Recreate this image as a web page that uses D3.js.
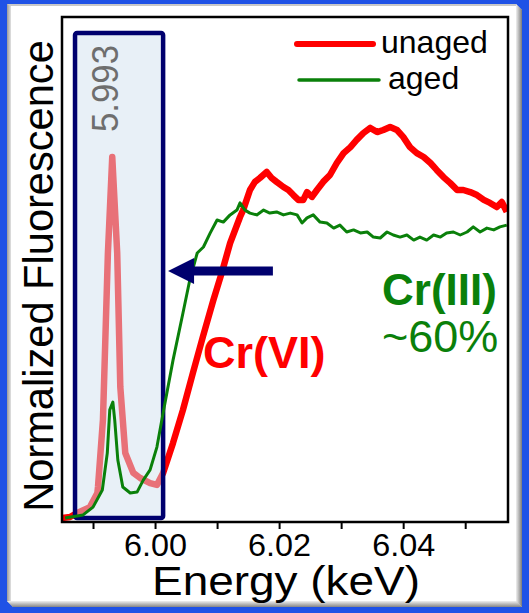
<!DOCTYPE html>
<html lang="en">
    <head>
        <meta charset="utf-8">
        <title>Cr K-edge XANES: unaged vs aged</title>
        <script type="text/javascript" src="https://cdn.jsdelivr.net/npm/d3@7"></script>
        <style type="text/css">
            body { margin: 0; background: #fff; }
            text { font-family: "Liberation Sans", Arial, sans-serif; }
        </style>
    </head>

    <body>
        <script type="text/javascript">
            // Energy (keV) and normalized fluorescence
            var unagedEnergy = [5.985, 5.9863, 5.9874, 5.9895, 5.9907, 5.9908, 5.9916, 5.9924, 5.9931, 5.9939,
                                5.9944, 5.9952, 5.9965, 5.9976, 5.9992, 6.0003, 6.0013, 6.0029, 6.0045, 6.0061,
                                6.0077, 6.0094, 6.0108, 6.0121, 6.0137, 6.0142, 6.0153, 6.0161, 6.0169, 6.0180,
                                6.0188, 6.0196, 6.0207, 6.0215, 6.0223, 6.0231, 6.0239, 6.0245, 6.0253, 6.0261,
                                6.0271, 6.0282, 6.0293, 6.0304, 6.0315, 6.0325, 6.0336, 6.0347, 6.0358, 6.0368,
                                6.0379, 6.0390, 6.0400, 6.0411, 6.0422, 6.0433, 6.0444, 6.0454, 6.0465, 6.0476,
                                6.0487, 6.0497, 6.0508, 6.0519, 6.0530, 6.0540, 6.0551, 6.0559, 6.0567];
            var unagedValue = [0.007, 0.010, 0.023, 0.043, 0.090, 0.110, 0.333, 0.890, 1.210, 0.890,
                               0.443, 0.223, 0.157, 0.140, 0.123, 0.117, 0.157, 0.257, 0.367, 0.490,
                               0.610, 0.733, 0.827, 0.923, 1.010, 1.033, 1.100, 1.127, 1.140, 1.160,
                               1.140, 1.127, 1.110, 1.100, 1.083, 1.067, 1.067, 1.093, 1.077, 1.100,
                               1.127, 1.150, 1.190, 1.223, 1.243, 1.267, 1.290, 1.307, 1.293, 1.300,
                               1.310, 1.300, 1.277, 1.243, 1.223, 1.210, 1.190, 1.167, 1.143, 1.123,
                               1.100, 1.100, 1.093, 1.083, 1.067, 1.057, 1.043, 1.060, 1.027];

            var agedEnergy = [5.9855, 5.9884, 5.9900, 5.9915, 5.9923, 5.9927, 5.9932, 5.9935, 5.9940, 5.9948,
                              5.9960, 5.9971, 5.9981, 5.9992, 6.0003, 6.0013, 6.0029, 6.0045, 6.0056, 6.0068,
                              6.0078, 6.0089, 6.0100, 6.0110, 6.0121, 6.0132, 6.0137, 6.0145, 6.0153, 6.0164,
                              6.0175, 6.0185, 6.0196, 6.0207, 6.0218, 6.0229, 6.0237, 6.0245, 6.0255, 6.0266,
                              6.0277, 6.0288, 6.0298, 6.0309, 6.0320, 6.0331, 6.0342, 6.0352, 6.0363, 6.0374,
                              6.0384, 6.0395, 6.0406, 6.0417, 6.0427, 6.0438, 6.0449, 6.0460, 6.0470, 6.0481,
                              6.0492, 6.0503, 6.0513, 6.0524, 6.0535, 6.0546, 6.0556, 6.0567];
            var agedValue = [0.007, 0.017, 0.043, 0.100, 0.223, 0.367, 0.393, 0.333, 0.200, 0.110,
                             0.090, 0.093, 0.133, 0.167, 0.243, 0.357, 0.533, 0.690, 0.800, 0.890,
                             0.910, 0.957, 1.000, 0.993, 1.017, 1.033, 1.057, 1.033, 1.023, 1.017,
                             1.033, 1.023, 1.027, 1.017, 1.023, 1.017, 0.990, 1.007, 1.017, 0.993,
                             0.990, 0.973, 0.983, 0.960, 0.967, 0.957, 0.960, 0.943, 0.940, 0.960,
                             0.950, 0.943, 0.950, 0.933, 0.943, 0.933, 0.950, 0.943, 0.957, 0.960,
                             0.950, 0.960, 0.977, 0.960, 0.973, 0.967, 0.977, 0.983];

            var xTicks = [5.99, 6.00, 6.01, 6.02, 6.03, 6.04, 6.05];
            var xTickLabels = ["", "6.00", "", "6.02", "", "6.04", ""];
            var peakEnergy = 5.993;
            var boxRange = [5.9871, 6.0013];
            var arrowFrom = 6.0190, arrowTo = 6.0021, arrowLevel = 0.83;

            var w = 529;
            var h = 613;
            // plot area edges
            var pLeft = 62, pRight = 508, pTop = 17, pBottom = 522;

            var svg = d3.select("body")
                        .append("svg")
                        .attr("width", w)
                        .attr("height", h);

            var defs = svg.append("defs");
            var gr = defs.append("linearGradient").attr("id", "bevelR")
                         .attr("x1", 0).attr("x2", 1).attr("y1", 0).attr("y2", 0);
            gr.append("stop").attr("offset", "0%").attr("stop-color", "#f0f0f0");
            gr.append("stop").attr("offset", "100%").attr("stop-color", "#7a7a7a");
            var gb = defs.append("linearGradient").attr("id", "bevelB")
                         .attr("x1", 0).attr("x2", 0).attr("y1", 0).attr("y2", 1);
            gb.append("stop").attr("offset", "0%").attr("stop-color", "#f0f0f0");
            gb.append("stop").attr("offset", "100%").attr("stop-color", "#858585");
            var gl = defs.append("linearGradient").attr("id", "bevelL")
                         .attr("x1", 0).attr("x2", 1).attr("y1", 0).attr("y2", 0);
            gl.append("stop").attr("offset", "0%").attr("stop-color", "#9a9a9a");
            gl.append("stop").attr("offset", "100%").attr("stop-color", "#f4f4f4");

            // blue frame with a bevelled white panel
            svg.append("rect").attr("width", w).attr("height", h).attr("fill", "#1f52e6");
            svg.append("polygon")
                .attr("points", "7,4 516,4 522,10 522,607 13,607 7,601")
                .attr("fill", "#c8c8c8");
            svg.append("polygon")
                .attr("points", "516,4 522,10 522,607 516,601")
                .attr("fill", "url(#bevelR)");
            svg.append("polygon")
                .attr("points", "13,607 7,601 516,601 522,607")
                .attr("fill", "url(#bevelB)");
            svg.append("polygon")
                .attr("points", "7,4 12,7 12,601 7,601")
                .attr("fill", "url(#bevelL)");
            svg.append("rect").attr("x", 11).attr("y", 6).attr("width", 505).attr("height", 595)
                .attr("fill", "#ffffff");

            var xScale = d3.scaleLinear()
                            .domain([5.985, 6.0569])
                            .range([pLeft, pRight]);
            var yScale = d3.scaleLinear()
                            .domain([-0.01, 1.68])
                            .range([pBottom + 1, pTop - 1]);

            defs.append("clipPath").attr("id", "plotClip")
                .append("rect").attr("x", pLeft).attr("y", pTop)
                .attr("width", pRight - pLeft).attr("height", pBottom - pTop);

            var line = d3.line()
                         .x(function(d) { return xScale(d[0]); })
                         .y(function(d) { return yScale(d[1]); });

            // red goes under the shaded box, green over it
            svg.append("g").attr("clip-path", "url(#plotClip)")
                .append("path")
                .datum(d3.zip(unagedEnergy, unagedValue))
                .attr("d", line)
                .attr("fill", "none")
                .attr("stroke", "#ff0000")
                .attr("stroke-width", 6.5)
                .attr("stroke-linejoin", "round");

            // shaded pre-edge box
            svg.append("rect")
                .attr("x", xScale(boxRange[0]))
                .attr("y", 33)
                .attr("width", xScale(boxRange[1]) - xScale(boxRange[0]))
                .attr("height", 518 - 33)
                .attr("rx", 2)
                .attr("fill", "#d2e2f0")
                .attr("fill-opacity", 0.5)
                .attr("stroke", "#00006e")
                .attr("stroke-width", 4.5);

            svg.append("g").attr("clip-path", "url(#plotClip)")
                .append("path")
                .datum(d3.zip(agedEnergy, agedValue))
                .attr("d", line)
                .attr("fill", "none")
                .attr("stroke", "#0a800a")
                .attr("stroke-width", 3)
                .attr("stroke-linejoin", "round");

            // plot frame
            svg.append("rect")
                .attr("x", pLeft).attr("y", pTop)
                .attr("width", pRight - pLeft).attr("height", pBottom - pTop)
                .attr("fill", "none")
                .attr("stroke", "#000")
                .attr("stroke-width", 2.5);

            var xAxis = d3.axisBottom(xScale)
                          .tickValues(xTicks)
                          .tickSize(7)
                          .tickSizeOuter(0)
                          .tickFormat(function(d, i) { return xTickLabels[i]; });
            var gx = svg.append("g")
                        .attr("transform", "translate(0," + pBottom + ")")
                        .call(xAxis);
            gx.attr("font-size", null).attr("font-family", null);
            gx.select(".domain").remove();
            gx.selectAll(".tick line").attr("stroke", "#000").attr("stroke-width", 2);
            gx.selectAll(".tick text")
                .attr("y", 34)
                .attr("dy", 0)
                .attr("fill", "#000")
                .style("font-size", "32px")
                .attr("textLength", function(d, i) { return xTickLabels[i] ? 63 : null; })
                .attr("lengthAdjust", "spacingAndGlyphs");

            svg.append("text")
                .attr("x", 286).attr("y", 595)
                .attr("text-anchor", "middle")
                .attr("textLength", 268)
                .attr("lengthAdjust", "spacingAndGlyphs")
                .style("font-size", "40px")
                .text("Energy (keV)");

            svg.append("text")
                .attr("transform", "translate(53,276) rotate(-90)")
                .attr("text-anchor", "middle")
                .style("font-size", "41.6px")
                .text("Normalized Fluorescence");

            // peak label
            svg.append("text")
                .attr("transform", "translate(" + (xScale(peakEnergy) + 6) + ",132) rotate(-90)")
                .attr("textLength", 87)
                .attr("lengthAdjust", "spacingAndGlyphs")
                .attr("fill", "#6e6e6e")
                .style("font-size", "37px")
                .text(peakEnergy.toFixed(3));

            // arrow
            var ax = xScale(arrowTo), ay = yScale(arrowLevel);
            svg.append("line")
                .attr("x1", xScale(arrowFrom)).attr("x2", ax + 22)
                .attr("y1", ay).attr("y2", ay)
                .attr("stroke", "#00006e")
                .attr("stroke-width", 9);
            svg.append("polygon")
                .attr("points", [[ax, ay], [ax + 26, ay - 13], [ax + 26, ay + 13]].join(" "))
                .attr("fill", "#00006e");

            // legend
            var legend = [
                {label: "unaged", color: "#ff0000", width: 6, x1: 297, x2: 373, y: 44, tx: 381, ty: 53},
                {label: "aged", color: "#0a800a", width: 3.5, x1: 299, x2: 379, y: 80, tx: 388, ty: 89}
            ];
            legend.forEach(function(d) {
                svg.append("line")
                    .attr("x1", d.x1).attr("x2", d.x2)
                    .attr("y1", d.y).attr("y2", d.y)
                    .attr("stroke", d.color)
                    .attr("stroke-width", d.width)
                    .attr("stroke-linecap", "round");
                svg.append("text")
                    .attr("x", d.tx).attr("y", d.ty)
                    .style("font-size", "32px")
                    .text(d.label);
            });

            // annotations
            svg.append("text")
                .attr("x", 203).attr("y", 368)
                .attr("fill", "#ff0000")
                .style("font-size", "45px")
                .style("font-weight", "bold")
                .text("Cr(VI)");
            svg.append("text")
                .attr("x", 382).attr("y", 305)
                .attr("fill", "#0a800a")
                .style("font-size", "44px")
                .style("font-weight", "bold")
                .text("Cr(III)");
            svg.append("text")
                .attr("x", 382).attr("y", 352)
                .attr("fill", "#0a800a")
                .style("font-size", "45px")
                .text("~60%");
        </script>
    </body>
</html>
